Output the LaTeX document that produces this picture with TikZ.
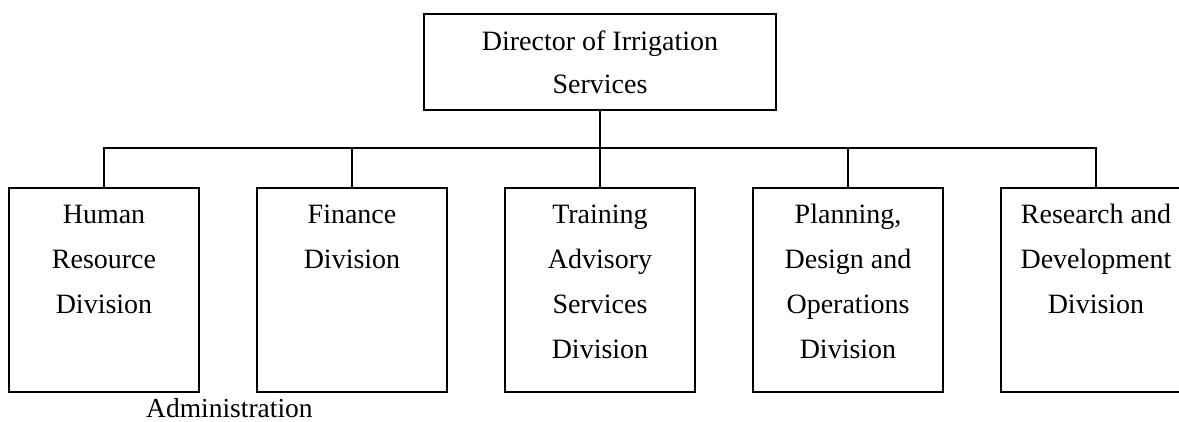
\documentclass[tikz,border=0pt]{standalone}
\usepackage{fontspec}
\setmainfont{Liberation Serif}
\begin{document}
\begin{tikzpicture}[x=1pt,y=-1pt,
  conn/.style={line width=1.8pt},
  box/.style={draw, line width=1.8pt, minimum width=190pt, minimum height=204pt, inner sep=0pt, anchor=north},
  topbox/.style={draw, line width=1.8pt, minimum width=352pt, minimum height=96pt, inner sep=0pt, anchor=north},
  lbl/.style={font=\fontsize{28}{45}\selectfont, align=center, anchor=base, inner sep=0pt},
  toplbl/.style={font=\fontsize{28}{43}\selectfont, align=center, anchor=base, inner sep=0pt},
  note/.style={font=\fontsize{27.5}{30}\selectfont, anchor=base west, inner sep=0pt}]
\useasboundingbox (0,0) rectangle (1179,421);
\clip (0,0) rectangle (1179,421);
\fill[white] (0,0) rectangle (1179,421);
% top box
\node[topbox] (dir) at (600,13) {};
\node[toplbl] (dirt) at (600,93) {Director of Irrigation\\Services};
% division boxes
\node[box] (hr) at (104,187) {};
\node[box] (fi) at (352,187) {};
\node[box] (tr) at (600,187) {};
\node[box] (pl) at (848,187) {};
\node[box] (rd) at (1096,187) {};
% labels (anchored at the baseline of their last line)
\node[lbl] (hrt) at (104,313) {Human\\Resource\\Division};
\node[lbl] (fit) at (352,268) {Finance\\Division};
\node[lbl] (trt) at (600,358) {Training\\Advisory\\Services\\Division};
\node[lbl] (plt) at (848,358) {Planning,\\Design and\\Operations\\Division};
\node[lbl] (rdt) at (1096,313) {Research and\\Development\\Division};
\node[note] (adm) at (146,417) {Administration};
% connectors
\coordinate (bar) at (600,148);
\draw[conn] (dir.south) -- (tr.north);
\draw[conn] (hr.north) -- (hr.north |- bar) -- (rd.north |- bar) -- (rd.north);
\draw[conn] (fi.north) -- (fi.north |- bar);
\draw[conn] (pl.north) -- (pl.north |- bar);
\end{tikzpicture}
\end{document}
